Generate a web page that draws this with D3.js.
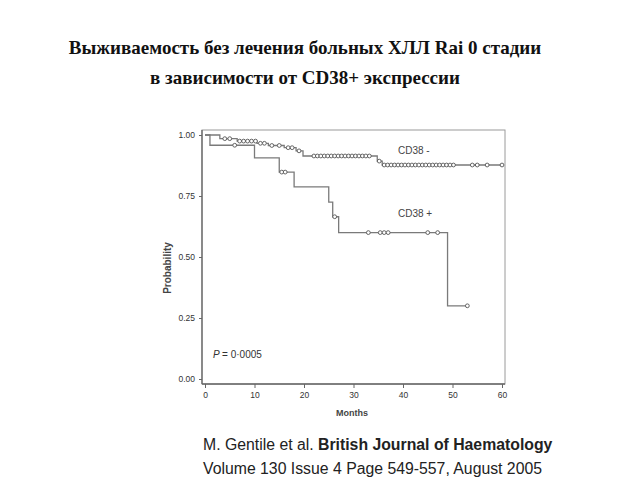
<!DOCTYPE html>
<html><head><meta charset="utf-8">
<script src="https://cdn.jsdelivr.net/npm/d3@7"></script>
<style>html,body{margin:0;padding:0;background:#fff;}svg{display:block;}</style>
</head><body>
<svg id="c" width="640" height="480"></svg>
<script>
const titleLines = ["Выживаемость без лечения больных ХЛЛ Rai 0 стадии", "в зависимости от CD38+ экспрессии"];
const xTicks = [0,10,20,30,40,50,60];
const yTicks = [0,0.25,0.5,0.75,1];
const yTickLabels = ["0.00","0.25","0.50","0.75","1.00"];
// CD38- : step times and survival
const negTimes = [0, 3, 6.5, 10.5, 12.8, 16, 18.4, 19.8, 34.8, 35.8, 60];
const negSurv  = [1, 0.985, 0.975, 0.966, 0.957, 0.948, 0.935, 0.914, 0.893, 0.877, 0.877];
const negCensor = [4,5,7,7.8,8.6,9.4,10.2,11.2,12,13.5,15,16.8,17.6,19,22,22.7,23.4,24.1,24.8,25.5,26.2,26.9,27.6,28.3,29,29.7,30.4,31.1,31.8,32.5,33.2,35.2,36.2,36.9,37.6,38.3,39,39.7,40.4,41.1,41.8,42.5,43.2,43.9,44.6,45.3,46,46.7,47.4,48.1,48.8,49.5,50.2,54,55,57,60];
// CD38+ : step times and survival
const posTimes = [0, 1, 10, 15, 18, 25, 25.8, 27, 49, 53];
const posSurv  = [1, 0.958, 0.906, 0.848, 0.787, 0.725, 0.665, 0.60, 0.30, 0.30];
const posCensor = [6,15.5,16.2,26.2,33,35.4,36.2,37,45,47,53];
const seriesLabels = ["CD38 -", "CD38 +"];
const pText = "= 0·0005";
const citation1a = "M. Gentile et al. ";
const citation1b = "British Journal of Haematology";
const citation2 = "Volume 130 Issue 4 Page 549-557, August 2005";

const svg = d3.select("#c");
const x = d3.scaleLinear().domain([0,60]).range([205,502]);
const y = d3.scaleLinear().domain([0,1]).range([379,135]);

// title
svg.selectAll("text.title").data(titleLines).join("text")
  .attr("class","title")
  .attr("x",305).attr("y",(d,i)=>54+i*30)
  .attr("text-anchor","middle")
  .attr("font-family","'Liberation Serif','Times New Roman',serif")
  .attr("font-weight","bold").attr("font-size",19).attr("fill","#111")
  .text(d=>d);

// frame
const gray = "#7a7a7a";
svg.append("rect").attr("x",202).attr("y",130).attr("width",303).attr("height",254)
  .attr("fill","none").attr("stroke","#9a9a9a").attr("stroke-width",1);
svg.append("line").attr("x1",202).attr("x2",202).attr("y1",130).attr("y2",384).attr("stroke","#666").attr("stroke-width",1.3);
svg.append("line").attr("x1",202).attr("x2",505).attr("y1",384).attr("y2",384).attr("stroke","#666").attr("stroke-width",1.3);

// axes
const fontAx = "'Liberation Sans Narrow','Liberation Sans',Arial,sans-serif";
const xAxis = d3.axisBottom(x).tickValues(xTicks).tickSize(4).tickFormat(d3.format("d"));
const gx = svg.append("g").attr("transform","translate(0,384)").call(xAxis);
gx.select(".domain").remove();
gx.selectAll("line").attr("stroke","#666");
gx.selectAll("text").attr("font-family",fontAx).attr("font-size",8.5).attr("fill","#333").attr("dy","0.8em");

const yAxis = d3.axisLeft(y).tickValues(yTicks).tickSize(3).tickFormat((d,i)=>yTickLabels[i]);
const gy = svg.append("g").attr("transform","translate(202,0)").call(yAxis);
gy.select(".domain").remove();
gy.selectAll("line").attr("stroke","#666");
gy.selectAll("text").attr("font-family",fontAx).attr("font-size",8.5).attr("fill","#333").attr("dx","-1");

svg.append("text").attr("transform","translate(171,268) rotate(-90)")
  .attr("text-anchor","middle").attr("font-family",fontAx).attr("font-size",10).attr("font-weight","bold").attr("fill","#444")
  .text("Probability");
svg.append("text").attr("x",352).attr("y",416)
  .attr("text-anchor","middle").attr("font-family",fontAx).attr("font-size",9).attr("font-weight","bold").attr("fill","#444")
  .text("Months");

// curves
const line = d3.line().x(d=>x(d[0])).y(d=>y(d[1])).curve(d3.curveStepAfter);
const negPts = negTimes.map((t,i)=>[t,negSurv[i]]);
const posPts = posTimes.map((t,i)=>[t,posSurv[i]]);
svg.append("path").attr("d",line(negPts)).attr("fill","none").attr("stroke",gray).attr("stroke-width",1.3);
svg.append("path").attr("d",line(posPts)).attr("fill","none").attr("stroke",gray).attr("stroke-width",1.3);

function survAt(times, surv, t){
  let v = surv[0];
  for(let i=0;i<times.length;i++){ if(times[i]<=t) v=surv[i]; }
  return v;
}
svg.selectAll("circle.neg").data(negCensor).join("circle").attr("class","neg")
  .attr("cx",d=>x(d)).attr("cy",d=>y(survAt(negTimes,negSurv,d)))
  .attr("r",1.9).attr("fill","#fff").attr("stroke","#555").attr("stroke-width",0.9);
svg.selectAll("circle.pos").data(posCensor).join("circle").attr("class","pos")
  .attr("cx",d=>x(d)).attr("cy",d=>y(survAt(posTimes,posSurv,d)))
  .attr("r",1.9).attr("fill","#fff").attr("stroke","#555").attr("stroke-width",0.9);

// labels
svg.append("text").attr("x",398).attr("y",154).attr("font-family",fontAx).attr("font-size",10).attr("fill","#444").text(seriesLabels[0]);
svg.append("text").attr("x",398).attr("y",217).attr("font-family",fontAx).attr("font-size",10).attr("fill","#444").text(seriesLabels[1]);
const pt = svg.append("text").attr("x",213).attr("y",358).attr("font-family",fontAx).attr("font-size",10).attr("fill","#333");
pt.append("tspan").attr("font-style","italic").text("P ");
pt.append("tspan").text(pText);

// citation
const fontC = "'Liberation Sans',Arial,sans-serif";
const c1 = svg.append("text").attr("x",203).attr("y",450).attr("font-family",fontC).attr("font-size",15.8).attr("fill","#222");
c1.append("tspan").text(citation1a);
c1.append("tspan").attr("font-weight","bold").text(citation1b);
svg.append("text").attr("x",203).attr("y",474).attr("font-family",fontC).attr("font-size",15.8).attr("fill","#222").text(citation2);
</script>
</body></html>
